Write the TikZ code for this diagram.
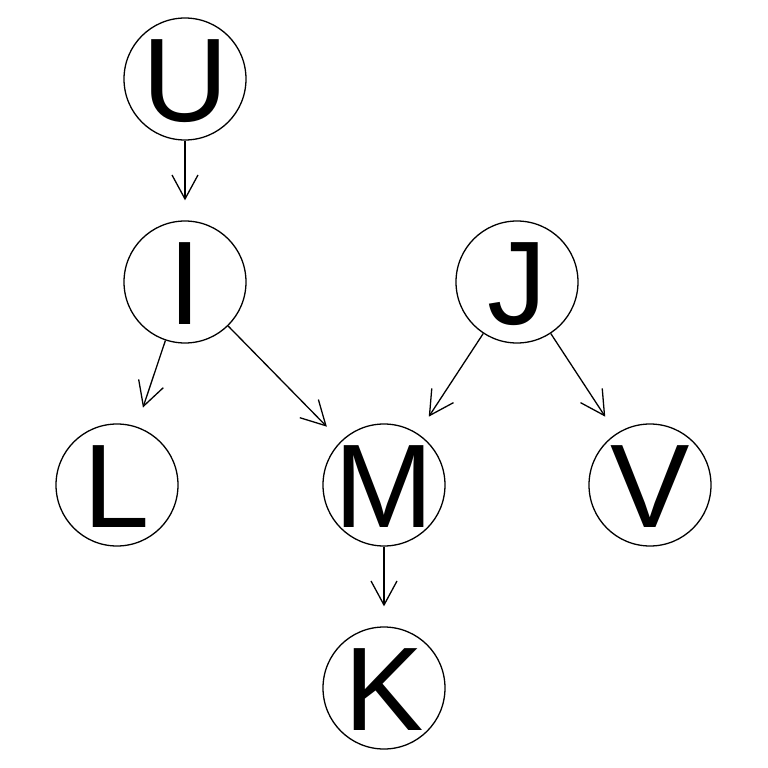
\documentclass[tikz,border=0pt]{standalone}
\usepackage{fontspec}
\setmainfont{Liberation Sans}
\usetikzlibrary{arrows.meta}
\begin{document}
\begin{tikzpicture}[x=1pt,y=-1pt,
  vnode/.style={circle,draw,line width=1.3pt,minimum size=122pt,inner sep=0pt,
    font=\fontsize{119}{119}\selectfont,text height=85pt,text depth=0pt},
  edge/.style={line width=1.3pt,shorten >=20pt,-{Straight Barb[length=24pt,width=26pt,line width=1.3pt]}}]
\useasboundingbox (0,0) rectangle (768,768);
\node[vnode] (U) at (185,79) {\makebox[0pt]{U}};
\node[vnode] (I) at (185,282) {\makebox[0pt]{I}};
\node[vnode] (J) at (517,282) {\makebox[0pt]{J}};
\node[vnode] (L) at (117,485) {\makebox[0pt]{L}};
\node[vnode] (M) at (384,485) {\makebox[0pt]{M}};
\node[vnode] (V) at (650,485) {\makebox[0pt]{V}};
\node[vnode] (K) at (384,688) {\makebox[0pt]{K}};
\draw[edge] (U) -- (I);
\draw[edge] (I) -- (L);
\draw[edge] (I) -- (M);
\draw[edge] (J) -- (M);
\draw[edge] (J) -- (V);
\draw[edge] (M) -- (K);
\end{tikzpicture}
\end{document}
